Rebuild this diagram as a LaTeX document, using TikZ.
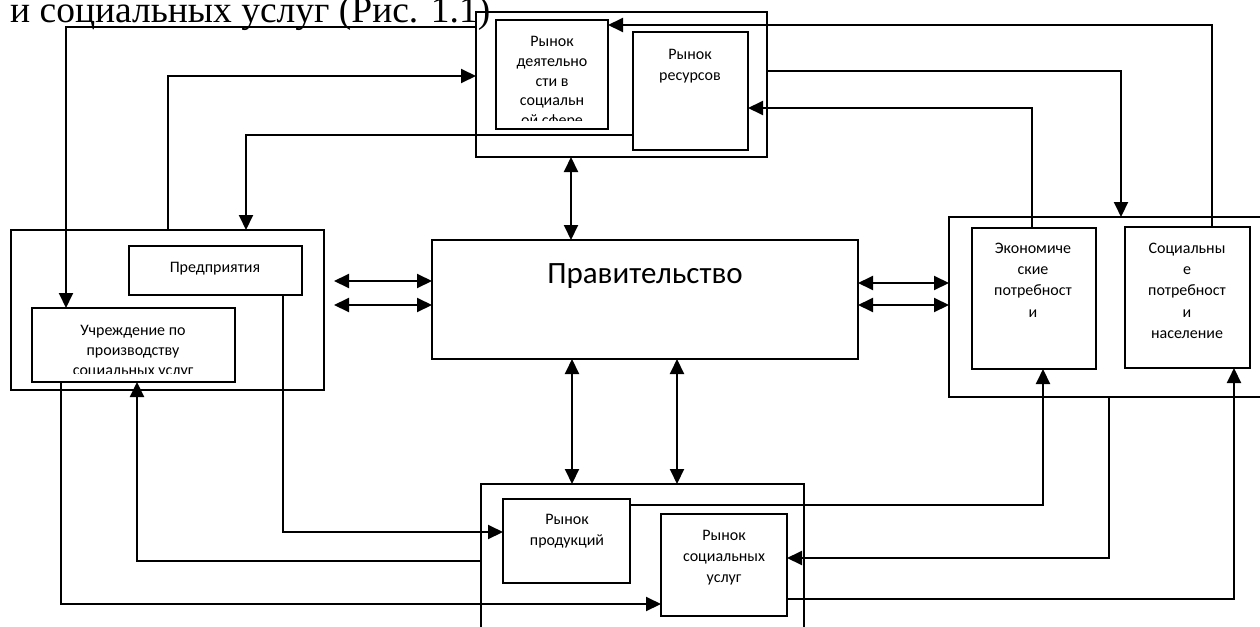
\documentclass[tikz,border=0pt]{standalone}
\usepackage{fontspec}
\newfontfamily\calib{Carlito}
\newfontfamily\tnr{Liberation Serif}
\usetikzlibrary{arrows.meta}
\tikzset{
  box/.style={draw, line width=2.3pt, inner sep=0pt, outer sep=0pt, anchor=north west},
  conn/.style={line width=2pt, -{Triangle[length=15pt,width=14pt]}},
  dbl/.style={line width=2pt, {Triangle[length=15pt,width=14pt]}-{Triangle[length=15pt,width=14pt]}},
  txt/.style={font=\calib\fontsize{16}{21.2}\selectfont, align=center, inner sep=0pt, anchor=north},
  txtn/.style={font=\calib\fontsize{16}{19.8}\selectfont, align=center, inner sep=0pt, anchor=north},
}
\begin{document}
\begin{tikzpicture}[x=1pt,y=-1pt]
\useasboundingbox (0,0) rectangle (1260,626);
% heading
\node[font=\tnr\fontsize{37.5}{42}\selectfont, anchor=base west, inner sep=0pt] (head) at (10,22.5) {и социальных услуг (Рис. 1.1)};
% boxes
\node[box, minimum width=291pt, minimum height=145pt] (topOuter) at (476,12) {};
\node[box, minimum width=112pt, minimum height=109pt] (dejat) at (496,20) {};
\node[box, minimum width=115pt, minimum height=118pt] (resurs) at (633,32) {};
\node[box, minimum width=426pt, minimum height=119pt] (gov) at (432,240) {};
\node[box, minimum width=313pt, minimum height=160pt] (leftOuter) at (11,230) {};
\node[box, minimum width=173pt, minimum height=49pt] (predpr) at (129,246) {};
\node[box, minimum width=203pt, minimum height=74pt] (uchr) at (32,308) {};
\node[box, minimum width=330pt, minimum height=180pt] (rightOuter) at (949,217) {};
\node[box, minimum width=124pt, minimum height=141pt] (econ) at (972,228) {};
\node[box, minimum width=125pt, minimum height=141pt] (social) at (1125,227) {};
\node[box, minimum width=323pt, minimum height=170pt] (bottomOuter) at (481,484) {};
\node[box, minimum width=127pt, minimum height=84pt] (prod) at (503,499) {};
\node[box, minimum width=126pt, minimum height=102pt] (socusl) at (661,514) {};
% texts
\begin{scope}
\clip (497,21) rectangle (607,120.5);
\node[txtn] (tdejat) at (552,36) {Рынок\\деятельно\\сти в\\социальн\\ой сфере};
\end{scope}
\node[txt] (tresurs) at (690,49) {Рынок\\ресурсов};
\node[font=\calib\fontsize{31}{36}\selectfont, anchor=base, inner sep=0pt] (tgov) at (645,283) {Правительство};
\node[txt] (tpredpr) at (215,262) {Предприятия};
\begin{scope}
\clip (33,309) rectangle (234,373);
\node[txtn] (tuchr) at (133,325) {Учреждение по\\производству\\социальных услуг};
\end{scope}
\node[txt] (tecon) at (1033,243) {Экономиче\\ские\\потребност\\и};
\node[txt] (tsocial) at (1187,243) {Социальны\\е\\потребност\\и\\население};
\node[txt] (tprod) at (567,514) {Рынок\\продукций};
\node[txt] (tsocusl) at (724,530) {Рынок\\социальных\\услуг};
% free ends
\coordinate (la1) at (334,281);
\coordinate (la2) at (334,305);
% connectors
\draw[conn] (topOuter.west |- 0,27) -| (uchr.north -| 66,0);
\draw[conn] (leftOuter.north -| 168,0) |- (topOuter.west |- 0,76);
\draw[conn] (resurs.west |- 0,135) -| (leftOuter.north -| 246,0);
\draw[conn] (social.north -| 1212,0) |- (dejat.east |- 0,25);
\draw[conn] (topOuter.east |- 0,71) -| (rightOuter.north -| 1121,0);
\draw[conn] (econ.north -| 1032,0) |- (resurs.east |- 0,108);
\draw[dbl] (topOuter.south -| 571,0) -- (gov.north -| 571,0);
\draw[dbl] (la1) -- (gov.west |- la1);
\draw[dbl] (la2) -- (gov.west |- la2);
\draw[dbl] (gov.east |- 0,283) -- (rightOuter.west |- 0,283);
\draw[dbl] (gov.east |- 0,305) -- (rightOuter.west |- 0,305);
\draw[dbl] (gov.south -| 572,0) -- (bottomOuter.north -| 572,0);
\draw[dbl] (gov.south -| 677,0) -- (bottomOuter.north -| 677,0);
\draw[conn] (predpr.south -| 283,0) |- (prod.west |- 0,532);
\draw[conn] (bottomOuter.west |- 0,561) -| (uchr.south -| 137,0);
\draw[conn] (uchr.south -| 61,0) |- (socusl.west |- 0,604);
\draw[conn] (prod.east |- 0,505) -| (econ.south -| 1043,0);
\draw[conn] (rightOuter.south -| 1109,0) |- (socusl.east |- 0,558);
\draw[conn] (socusl.east |- 0,599) -| (social.south -| 1234,0);
\end{tikzpicture}
\end{document}
